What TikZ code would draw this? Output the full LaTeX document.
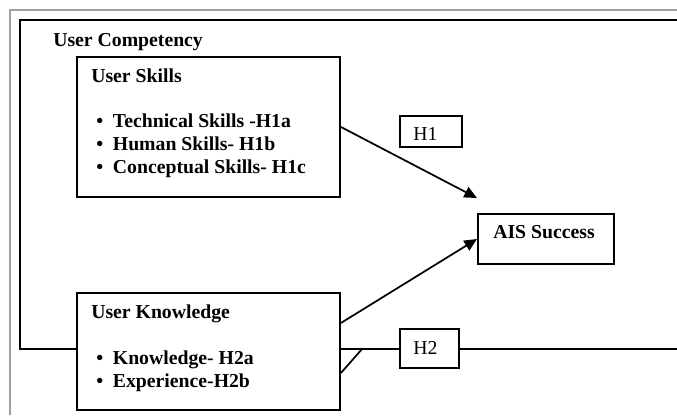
\documentclass[tikz,border=0pt]{standalone}
\usepackage{fontspec}
\setmainfont{Liberation Serif}
\usetikzlibrary{arrows.meta,calc}

\begin{document}
\begin{tikzpicture}[
  x=0.75pt, y=-0.75pt,
  font=\fontsize{14.8pt}{17pt}\selectfont,
  box/.style={draw=black, line width=1.5pt, inner sep=0pt},
  txt/.style={anchor=base west, inner sep=0pt, font=\fontsize{14.8pt}{17pt}\selectfont\bfseries},
  lbl/.style={anchor=base west, inner sep=0pt},
  arr/.style={-{Triangle[length=9.5pt,width=8.5pt]}, line width=1.3pt, draw=black},
  edge/.style={line width=1.3pt, draw=black},
]
\useasboundingbox (0,0) rectangle (677,415);
\newcommand{\itm}[1]{\hbox to 12.5pt{\textbullet\hfil}#1}
% outer frames
\draw[gray!75, line width=1.2pt] (10,415) -- (10,10) -- (677,10);
\coordinate (tl) at (20,20);
\coordinate (tr) at (677,20);
\coordinate (bl) at (20,349);
\coordinate (br) at (677,349);
% blocks
\node[box, minimum width=197.25pt, minimum height=105pt] (skills) at (208.5,127) {};
\node[box, minimum width=197.25pt, minimum height=87.75pt] (know) at (208.5,351.5) {};
\node[box, minimum width=102pt, minimum height=37.5pt] (ais) at (546,239) {};
\node[box, minimum width=46.5pt, minimum height=23.25pt] (h1) at (431,131.5) {};
\node[box, minimum width=44.25pt, minimum height=29.25pt] (h2) at (429.5,348.5) {};
% texts
\node[txt] (comp) at (53,46) {User Competency};
\node[txt] (skillsT) at (91,82) {User Skills};
\node[txt] (s1) at (96,127) {\itm{Technical Skills -H1a}};
\node[txt] (s2) at (96,150) {\itm{Human Skills- H1b}};
\node[txt] (s3) at (96,173) {\itm{Conceptual Skills- H1c}};
\node[txt] (knowT) at (91,318) {User Knowledge};
\node[txt] (k1) at (96,364) {\itm{Knowledge- H2a}};
\node[txt] (k2) at (96,387) {\itm{Experience-H2b}};
\node[txt] (aisT) at (493,238) {AIS Success};
\node[lbl] (h1T) at (413,140) {H1};
\node[lbl] (h2T) at (413,354) {H2};
% edges
\draw[edge] (tr) -- (tl) -- (bl) -- (know.west |- bl);
\draw[edge] (know.east |- bl) -- (h2.west |- bl);
\draw[edge] (h2.east |- bl) -- (br);
\coordinate (tip1) at (477,198);
\coordinate (foot) at (362,349);
\draw[arr] (skills.east) -- (tip1);
\draw[arr] ($(know.north east)!0.26!(know.south east)$) -- (ais.west);
\draw[edge] ($(know.north east)!0.68!(know.south east)$) -- (foot);
\end{tikzpicture}
\end{document}
